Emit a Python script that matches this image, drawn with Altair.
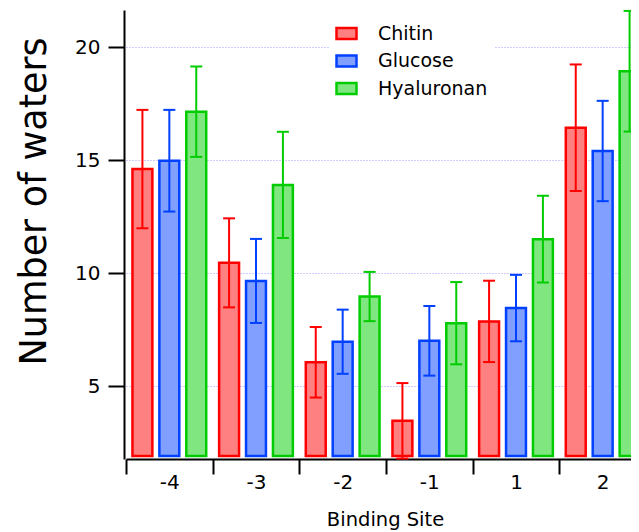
import altair as alt
import pandas as pd

sites = ["-4", "-3", "-2", "-1", "1", "2"]
molecules = ["Chitin", "Glucose", "Hyaluronan"]

chitin = [14.6, 10.45, 6.05, 3.46, 7.86, 16.43]
chitin_err = [2.62, 1.97, 1.56, 1.67, 1.80, 2.80]
glucose = [14.97, 9.65, 6.96, 7.0, 8.45, 15.4]
glucose_err = [2.25, 1.86, 1.42, 1.54, 1.47, 2.22]
hyaluronan = [17.14, 13.9, 8.96, 7.78, 11.5, 18.93]
hyaluronan_err = [2.0, 2.35, 1.09, 1.82, 1.92, 2.67]

BASELINE = 1.9
FILL = ["#ff8080", "#809fff", "#80e680"]
EDGE = ["#ff0000", "#0040ff", "#00cc00"]
FONT = "DejaVu Sans"

rows = []
for m, means, errs in zip(molecules, [chitin, glucose, hyaluronan],
                          [chitin_err, glucose_err, hyaluronan_err]):
    for s, v, e in zip(sites, means, errs):
        rows.append({"site": s, "molecule": m, "mean": v,
                     "lo": v - e, "hi": v + e, "base": BASELINE})
df = pd.DataFrame(rows)

x_enc = alt.X(
    "site:N", sort=sites,
    scale=alt.Scale(domain=sites, range=[0, 520], paddingInner=0, paddingOuter=0),
    axis=alt.Axis(title="Binding Site", tickBand="extent", tickSize=15, tickWidth=2,
                  tickColor="black", domainColor="black", domainWidth=2,
                  labelAngle=0, labelFontSize=20, labelFont=FONT, labelColor="black",
                  labelPadding=-2, titleFontSize=19.5, titleFont=FONT,
                  titleFontWeight="normal", titleColor="black",
                  titleX=259, titleY=66, titleBaseline="alphabetic"),
)
xo_enc = alt.XOffset(
    "molecule:N", sort=molecules,
    scale=alt.Scale(domain=molecules, paddingInner=0.26, paddingOuter=0.24),
)
y_scale = alt.Scale(domain=[1.77, 21.64], zero=False, nice=False)

fill_enc = alt.Fill(
    "molecule:N", sort=molecules,
    scale=alt.Scale(domain=molecules, range=FILL),
    legend=alt.Legend(title=None, orient="none", legendX=203, legendY=6,
                      symbolType="M-1,-0.55H1V0.55H-1Z", symbolSize=400,
                      symbolStrokeWidth=2.5, labelFontSize=19, labelFont=FONT,
                      labelColor="black", labelOffset=20, rowPadding=5.5,
                      padding=6, fillColor="white"),
)
stroke_enc = alt.Stroke(
    "molecule:N", sort=molecules,
    scale=alt.Scale(domain=molecules, range=EDGE),
)

bars = alt.Chart(df).mark_bar(strokeWidth=2.5).encode(
    x=x_enc, xOffset=xo_enc,
    y=alt.Y("mean:Q", scale=y_scale,
            axis=alt.Axis(values=[5, 10, 15, 20], grid=True, gridDash=[1, 2],
                          gridColor="#9a9aff", gridWidth=1, tickSize=16, tickWidth=2,
                          tickColor="black", domainColor="black", domainWidth=2,
                          offset=2, labelFontSize=20, labelFont=FONT,
                          labelColor="black", labelPadding=8,
                          title="Number of waters", titleFontSize=36.5, titleFont=FONT,
                          titleFontWeight="normal", titleColor="black",
                          titleX=-79, titleY=191, titleAngle=-90,
                          titleAlign="center", titleBaseline="alphabetic")),
    y2="base:Q",
    fill=fill_enc, stroke=stroke_enc,
)

err = alt.Chart(df).mark_rule(strokeWidth=2).encode(
    x=x_enc, xOffset=xo_enc,
    y=alt.Y("lo:Q", scale=y_scale), y2="hi:Q",
    stroke=stroke_enc,
)

cap_lo = alt.Chart(df).mark_point(shape="M-1,0H1", size=144, strokeWidth=2,
                                  filled=False, opacity=1).encode(
    x=x_enc, xOffset=xo_enc, y=alt.Y("lo:Q", scale=y_scale), stroke=stroke_enc,
)
cap_hi = alt.Chart(df).mark_point(shape="M-1,0H1", size=144, strokeWidth=2,
                                  filled=False, opacity=1).encode(
    x=x_enc, xOffset=xo_enc, y=alt.Y("hi:Q", scale=y_scale), stroke=stroke_enc,
)

chart = alt.layer(bars, err, cap_lo, cap_hi).properties(
    width=505, height=449,
    autosize=alt.AutoSizeParams(type="none"),
    padding={"left": 118, "top": 2, "right": 0, "bottom": 73},
    background="white",
).configure_view(stroke=None)

chart.save("out.html", embed_options={"renderer": "svg", "actions": False})
